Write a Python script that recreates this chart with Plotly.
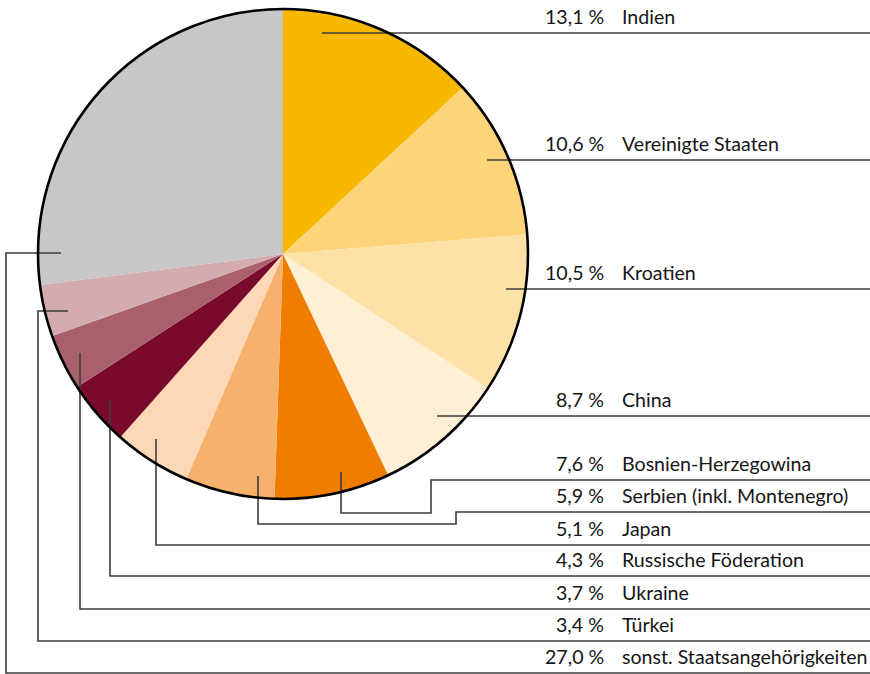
import plotly.graph_objects as go

# Shares by nationality (percent)
countries = ["Indien", "Vereinigte Staaten", "Kroatien", "China", "Bosnien-Herzegowina",
             "Serbien (inkl. Montenegro)", "Japan", "Russische Föderation", "Ukraine",
             "Türkei", "sonst. Staatsangehörigkeiten"]
shares = [13.1, 10.6, 10.5, 8.7, 7.6, 5.9, 5.1, 4.3, 3.7, 3.4, 27.0]
colors = ["#F9B800", "#FDD479", "#FEE1A7", "#FFF0D5", "#EF7D00", "#F6B26D",
          "#FCD8B6", "#790A2B", "#A8606B", "#D4ACAF", "#C6C7C6"]

W, H = 870, 674
# pie geometry in pixels
CX, CY, R = 283, 254, 245

# label rows (pixel y of the rule under each label)
row_y = [33, 160, 289, 416, 480, 512, 545, 576, 609, 641, 673]
# leader routes: start point inside the slice, then orthogonal segments to the row
routes = [
    [(322, 33)],
    [(487, 160)],
    [(506, 289)],
    [(437, 416)],
    [(341, 472), (341, 513), (431, 513), (431, 480)],
    [(258, 476), (258, 524), (456, 524), (456, 512)],
    [(156, 439), (156, 545)],
    [(110, 400), (110, 576)],
    [(80, 353), (80, 609)],
    [(68, 311), (38, 311), (38, 641)],
    [(61, 253), (6, 253), (6, 673)],
]

fig = go.Figure()
fig.add_trace(go.Pie(
    labels=countries, values=shares, sort=False, direction="clockwise", rotation=0,
    marker=dict(colors=colors, line=dict(width=0)),
    textinfo="none", hoverinfo="label+value", showlegend=False,
    domain=dict(x=[(CX - R) / W, (CX + R) / W], y=[1 - (CY + R) / H, 1 - (CY - R) / H]),
))

shapes = []
for pts, y in zip(routes, row_y):
    path = "M{},{}".format(*pts[0])
    for p in pts[1:]:
        path += " L{},{}".format(*p)
    path += " L{},{}".format(W, y)
    shapes.append(dict(type="path", path=path, xref="x", yref="y",
                       line=dict(color="#3c3c3c", width=1.6), layer="above"))
shapes.append(dict(type="circle", xref="x", yref="y", x0=CX - R, x1=CX + R,
                   y0=CY - R, y1=CY + R, line=dict(color="#000000", width=2.6),
                   layer="above"))

font = dict(family="Lato, 'Noto Sans', sans-serif", size=19.6, color="#161616")
annotations = []
for name, val, y in zip(countries, shares, row_y):
    pct = f"{val:.1f}".replace(".", ",") + " %"
    annotations.append(dict(x=606, y=y - 16.5, xref="x", yref="y", text=pct,
                            showarrow=False, xanchor="right", yanchor="middle", font=font))
    annotations.append(dict(x=620, y=y - 16.5, xref="x", yref="y", text=name,
                            showarrow=False, xanchor="left", yanchor="middle", font=font))

fig.update_layout(
    width=W, height=H, margin=dict(l=0, r=0, t=0, b=0),
    paper_bgcolor="white", plot_bgcolor="rgba(0,0,0,0)",
    xaxis=dict(range=[0, W], visible=False, domain=[0, 1], fixedrange=True),
    yaxis=dict(range=[H, 0], visible=False, domain=[0, 1], fixedrange=True),
    shapes=shapes, annotations=annotations,
)

fig.write_html("out.html")
